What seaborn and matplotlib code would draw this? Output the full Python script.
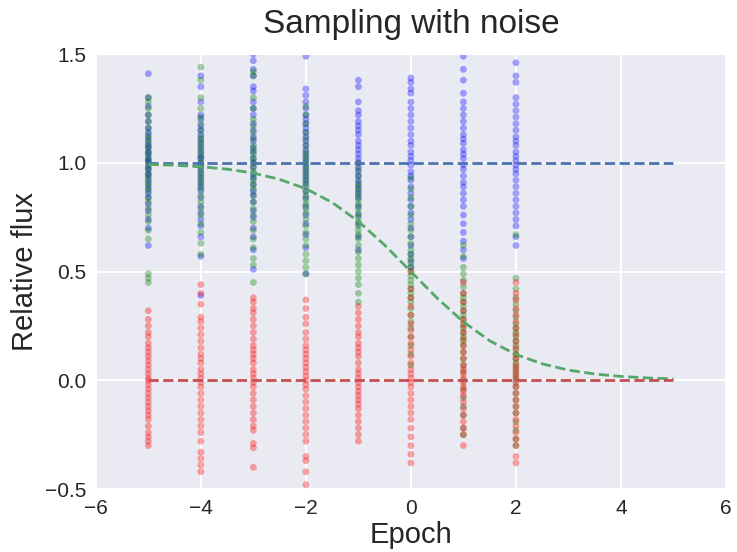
import numpy as np
import pandas as pd
import matplotlib
matplotlib.use("Agg")
import matplotlib.pyplot as plt
import seaborn as sns

# epochs where the noisy samples were taken
epochs = [-5, -4, -3, -2, -1, 0, 1, 2]

# samples around the flat "1" model (blue)
blue_flux = [
    [1.41, 1.30, 1.26, 1.22, 1.19, 1.16, 1.14, 1.12, 1.10, 1.08, 1.07, 1.05, 1.04, 1.02, 1.01, 1.00,
     0.98, 0.97, 0.95, 0.94, 0.92, 0.90, 0.88, 0.86, 0.84, 0.81, 0.78, 0.74, 0.70, 0.62],
    [1.40, 1.35, 1.28, 1.22, 1.20, 1.17, 1.15, 1.13, 1.11, 1.09, 1.07, 1.05, 1.03, 1.02, 1.00, 0.99,
     0.97, 0.95, 0.93, 0.91, 0.89, 0.87, 0.84, 0.80, 0.77, 0.74, 0.71, 0.66, 0.57, 0.39],
    [1.50, 1.47, 1.43, 1.40, 1.35, 1.33, 1.28, 1.25, 1.22, 1.18, 1.15, 1.12, 1.10, 1.07, 1.05, 1.02,
     1.00, 0.98, 0.95, 0.93, 0.90, 0.87, 0.85, 0.82, 0.78, 0.75, 0.70, 0.66, 0.60, 0.51],
    [1.49, 1.34, 1.31, 1.28, 1.25, 1.22, 1.20, 1.18, 1.16, 1.14, 1.12, 1.10, 1.08, 1.06, 1.04, 1.02,
     1.00, 0.98, 0.96, 0.94, 0.92, 0.90, 0.87, 0.84, 0.80, 0.76, 0.72, 0.67, 0.61, 0.49],
    [1.38, 1.35, 1.28, 1.24, 1.22, 1.19, 1.17, 1.15, 1.13, 1.10, 1.08, 1.06, 1.04, 1.02, 1.00, 0.98,
     0.96, 0.94, 0.92, 0.90, 0.88, 0.86, 0.84, 0.80, 0.76, 0.72, 0.66, 0.60],
    [1.39, 1.37, 1.34, 1.32, 1.28, 1.25, 1.22, 1.19, 1.16, 1.13, 1.10, 1.08, 1.05, 1.03, 1.01, 0.99,
     0.96, 0.94, 0.92, 0.89, 0.86, 0.83, 0.80, 0.77, 0.74, 0.70, 0.66, 0.62, 0.58, 0.55, 0.52],
    [1.49, 1.43, 1.38, 1.32, 1.28, 1.25, 1.22, 1.19, 1.16, 1.13, 1.11, 1.09, 1.06, 1.04, 1.02, 0.99,
     0.97, 0.94, 0.91, 0.89, 0.86, 0.83, 0.80, 0.76, 0.72, 0.68, 0.64, 0.60, 0.56],
    [1.46, 1.40, 1.37, 1.30, 1.27, 1.24, 1.21, 1.18, 1.15, 1.12, 1.10, 1.08, 1.05, 1.03, 1.01, 0.99,
     0.97, 0.95, 0.92, 0.89, 0.86, 0.83, 0.80, 0.77, 0.74, 0.71, 0.66, 0.62],
]

# samples around the transit curve (green)
green_flux = [
    [1.30, 1.28, 1.25, 1.22, 1.19, 1.16, 1.13, 1.11, 1.09, 1.07, 1.05, 1.03, 1.01, 0.99, 0.97, 0.95,
     0.93, 0.91, 0.89, 0.87, 0.84, 0.82, 0.79, 0.76, 0.73, 0.69, 0.65, 0.49, 0.47, 0.45],
    [1.44, 1.38, 1.30, 1.25, 1.21, 1.18, 1.15, 1.12, 1.10, 1.08, 1.06, 1.04, 1.02, 1.00, 0.98, 0.96,
     0.94, 0.92, 0.90, 0.88, 0.85, 0.82, 0.79, 0.76, 0.72, 0.68, 0.63, 0.58],
    [1.42, 1.40, 1.30, 1.25, 1.20, 1.17, 1.14, 1.11, 1.08, 1.06, 1.04, 1.02, 1.00, 0.98, 0.96, 0.94,
     0.92, 0.90, 0.88, 0.85, 0.82, 0.79, 0.76, 0.73, 0.69, 0.65, 0.61, 0.56, 0.53, 0.45],
    [1.26, 1.22, 1.18, 1.14, 1.11, 1.08, 1.05, 1.03, 1.01, 0.99, 0.97, 0.95, 0.93, 0.91, 0.89, 0.87,
     0.85, 0.83, 0.81, 0.79, 0.77, 0.74, 0.71, 0.68, 0.65, 0.62, 0.58, 0.55, 0.52, 0.49],
    [1.00, 0.97, 0.94, 0.91, 0.89, 0.87, 0.85, 0.83, 0.81, 0.79, 0.77, 0.75, 0.73, 0.71, 0.69, 0.67,
     0.65, 0.62, 0.59, 0.56, 0.53, 0.50, 0.47, 0.44, 0.40, 0.36],
    [0.93, 0.88, 0.84, 0.80, 0.76, 0.72, 0.69, 0.66, 0.63, 0.60, 0.58, 0.56, 0.54, 0.52, 0.50, 0.48,
     0.46, 0.44, 0.42, 0.40, 0.38, 0.36, 0.33, 0.30, 0.27, 0.24, 0.20, 0.16, 0.12, 0.07],
    [0.62, 0.57, 0.52, 0.49, 0.46, 0.43, 0.40, 0.38, 0.36, 0.34, 0.32, 0.30, 0.28, 0.26, 0.24, 0.22,
     0.20, 0.18, 0.16, 0.13, 0.10, 0.07, 0.04, 0.00, -0.04, -0.08, -0.12, -0.16, -0.22, -0.25],
    [0.67, 0.47, 0.42, 0.38, 0.35, 0.32, 0.29, 0.26, 0.24, 0.22, 0.20, 0.18, 0.16, 0.14, 0.12, 0.10,
     0.08, 0.06, 0.04, 0.02, 0.00, -0.03, -0.06, -0.09, -0.12, -0.15, -0.19, -0.23, -0.27, -0.30],
]

# samples around the flat "0" model (red)
red_flux = [
    [0.32, 0.28, 0.25, 0.22, 0.20, 0.17, 0.15, 0.13, 0.11, 0.09, 0.07, 0.05, 0.03, 0.01, 0.00, -0.02,
     -0.04, -0.06, -0.08, -0.10, -0.12, -0.14, -0.16, -0.18, -0.21, -0.24, -0.26, -0.28, -0.30],
    [0.44, 0.40, 0.35, 0.29, 0.27, 0.24, 0.21, 0.18, 0.15, 0.12, 0.10, 0.08, 0.05, 0.03, 0.01, -0.01,
     -0.03, -0.06, -0.09, -0.12, -0.15, -0.18, -0.21, -0.24, -0.28, -0.33, -0.36, -0.39, -0.42],
    [0.38, 0.36, 0.33, 0.31, 0.28, 0.25, 0.22, 0.19, 0.16, 0.14, 0.12, 0.10, 0.08, 0.05, 0.03, 0.01,
     -0.01, -0.03, -0.06, -0.09, -0.12, -0.15, -0.18, -0.21, -0.23, -0.29, -0.31, -0.40],
    [0.37, 0.33, 0.29, 0.26, 0.22, 0.19, 0.16, 0.14, 0.12, 0.10, 0.08, 0.06, 0.04, 0.02, 0.00, -0.02,
     -0.04, -0.07, -0.10, -0.13, -0.16, -0.19, -0.22, -0.25, -0.28, -0.35, -0.37, -0.42, -0.48],
    [0.34, 0.31, 0.28, 0.25, 0.22, 0.20, 0.17, 0.15, 0.13, 0.11, 0.08, 0.05, 0.03, 0.01, -0.01, -0.03,
     -0.05, -0.07, -0.09, -0.11, -0.13, -0.16, -0.19, -0.22, -0.25, -0.28],
    [0.50, 0.42, 0.38, 0.34, 0.30, 0.26, 0.23, 0.20, 0.17, 0.14, 0.11, 0.08, 0.05, 0.03, 0.01, -0.01,
     -0.03, -0.06, -0.09, -0.12, -0.15, -0.18, -0.22, -0.26, -0.30, -0.34, -0.38],
    [0.45, 0.40, 0.36, 0.32, 0.28, 0.25, 0.22, 0.19, 0.16, 0.13, 0.10, 0.07, 0.05, 0.03, 0.01, -0.01,
     -0.03, -0.05, -0.07, -0.10, -0.13, -0.16, -0.19, -0.22, -0.25, -0.30],
    [0.45, 0.40, 0.37, 0.33, 0.30, 0.27, 0.24, 0.21, 0.18, 0.15, 0.12, 0.10, 0.07, 0.05, 0.03, 0.01,
     -0.01, -0.03, -0.06, -0.09, -0.12, -0.15, -0.18, -0.21, -0.24, -0.27, -0.30, -0.35, -0.38],
]

# model curves (dashed)
model_epoch = [-5, -4.5, -4, -3.5, -3, -2.5, -2, -1.5, -1, -0.5, 0, 0.5, 1, 1.5, 2, 2.5, 3, 3.5, 4, 4.5, 5]
model_one = [1.0] * len(model_epoch)
model_zero = [0.0] * len(model_epoch)
model_transit = [0.993, 0.989, 0.982, 0.971, 0.953, 0.924, 0.881, 0.818, 0.731, 0.622, 0.500,
                 0.378, 0.269, 0.182, 0.119, 0.076, 0.047, 0.029, 0.018, 0.011, 0.007]

# samples table
rows = []
for name, series in [("blue", blue_flux), ("green", green_flux), ("red", red_flux)]:
    for ep, vals in zip(epochs, series):
        for v in vals:
            rows.append((name, ep, v))
df = pd.DataFrame(rows, columns=["model", "epoch", "flux"])

sns.set_style("darkgrid", {"xtick.major.size": 3, "ytick.major.size": 3,
                           "grid.linewidth": 1.4})
plt.rcParams["font.family"] = ["Liberation Sans", "DejaVu Sans"]
plt.rcParams["grid.linewidth"] = 1.4

deep = sns.color_palette("deep")
fig = plt.figure(figsize=(7.37, 5.52), dpi=100)
ax = fig.add_axes([0.130, 0.114, 0.855, 0.788])

sns.scatterplot(data=df, x="epoch", y="flux", hue="model",
                palette={"blue": "blue", "green": "green", "red": "red"},
                alpha=0.35, s=24, linewidth=0, legend=False, ax=ax, zorder=2)

sns.lineplot(x=model_epoch, y=model_one, color=deep[0], ls="--", lw=2, ax=ax, zorder=3)
sns.lineplot(x=model_epoch, y=model_transit, color=deep[2], ls="--", lw=2, ax=ax, zorder=3)
sns.lineplot(x=model_epoch, y=model_zero, color=deep[3], ls="--", lw=2, ax=ax, zorder=3)

ax.set_xlim(-6, 6)
ax.set_ylim(-0.5, 1.5)
ax.set_xticks([-6, -4, -2, 0, 2, 4, 6])
ax.set_yticks([-0.5, 0.0, 0.5, 1.0, 1.5])
ax.set_yticklabels(["\u22120.5", "0.0", "0.5", "1.0", "1.5"])
ax.tick_params(labelsize=15, colors="#262626")
ax.set_xlabel("Epoch", fontsize=21, color="#262626", labelpad=2)
ax.set_ylabel("Relative flux", fontsize=21, color="#262626")
ax.set_title("Sampling with noise", fontsize=24, color="#262626", pad=15)

plt.savefig("out.png", dpi=100)
